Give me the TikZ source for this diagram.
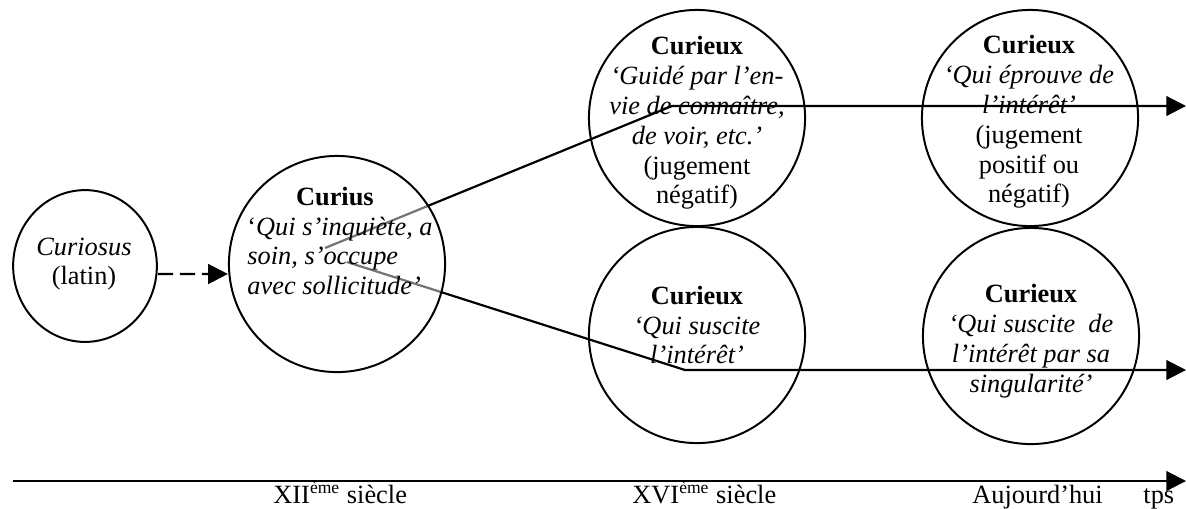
\documentclass[tikz,border=0pt]{standalone}
\usepackage{fontspec}
\setmainfont{Liberation Serif}
\usetikzlibrary{arrows.meta, shapes.geometric}

\begin{document}
\begin{tikzpicture}[
  x=0.016cm, y=-0.016cm,
  circ/.style={draw, circle, line width=0.9pt, minimum size=3.46cm, inner sep=0pt},
  txt/.style={align=center, inner sep=0pt, font=\fontsize{12pt}{13.6pt}\selectfont},
  arrow/.style={-{Triangle[length=9pt, width=9pt]}, line width=1pt},
  dasharrow/.style={arrow, dash pattern=on 7pt off 3pt}
]
\useasboundingbox (0,0) rectangle (1186,508);

% the two senses leaving Curius
\coordinate (split-up) at (325,248);
\coordinate (bend-up) at (672,106);
\coordinate (end-up) at (1186,106);
\coordinate (split-down) at (347,262);
\coordinate (bend-down) at (685,370);
\coordinate (end-down) at (1186,370);
\draw[arrow] (split-up) -- (bend-up) -- (end-up);
\draw[arrow] (split-down) -- (bend-down) -- (end-down);

\node[circ, ellipse, minimum width=2.3cm, minimum height=2.43cm] (curiosus) at (85,266) {};
\node[circ, fill=white, fill opacity=0.45] (curius) at (337,264) {};
\node[circ] (curieux-neg) at (697,118) {};
\node[circ] (curieux-pos) at (1030,118) {};
\node[circ] (curieux-int) at (697,335) {};
\node[circ] (curieux-sing) at (1031,336) {};

\node[txt] (curiosus-txt) at (84,264) {\textit{Curiosus}\\(latin)};
\node[txt, anchor=west, align=left] (curius-txt) at (247,241)
  {\makebox[2.8cm]{\textbf{Curius}}\\‘\textit{Qui s’inquiète, a}\\\textit{soin, s’occupe}\\\textit{avec sollicitude’}};
\node[txt] (neg-txt) at (697,123) {\textbf{Curieux}\\\textit{‘Guidé par l’en-}\\\textit{vie de connaître,}\\\textit{de voir, etc.’}\\(jugement\\négatif)};
\node[txt] (pos-txt) at (1029,122) {\textbf{Curieux}\\\textit{‘Qui éprouve de}\\\textit{l’intérêt’}\\(jugement\\positif ou\\négatif)};
\node[txt] (int-txt) at (697,325) {\textbf{Curieux}\\\textit{‘Qui suscite}\\\textit{l’intérêt’}};
\node[txt] (sing-txt) at (1031,341) {\textbf{Curieux}\\\textit{‘Qui suscite~ de}\\\textit{l’intérêt par sa}\\\textit{singularité’}};

\draw[dasharrow] ([yshift=-0.128cm]curiosus.east) -- ([yshift=-0.16cm]curius.west);

% time axis
\coordinate (axis-start) at (13,481);
\coordinate (axis-end) at (1186,481);
\draw[arrow] (axis-start) -- (axis-end);
\node[txt, anchor=base west] (xii) at (273,503) {XII\textsuperscript{ème} siècle};
\node[txt, anchor=base west] (xvi) at (632,503) {XVI\textsuperscript{ème} siècle};
\node[txt, anchor=base west] (today) at (972,503) {Aujourd’hui};
\node[txt, anchor=base west] (tps) at (1143,503) {tps};
\end{tikzpicture}
\end{document}
